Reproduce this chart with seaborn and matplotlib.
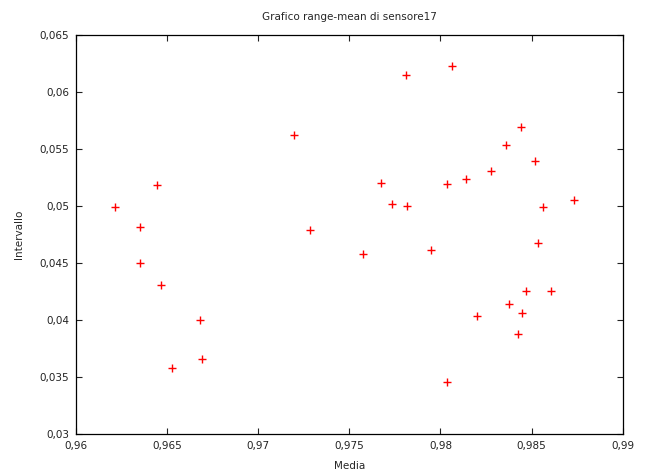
# Grafico range-mean di sensore17

import matplotlib
matplotlib.use('Agg')
import matplotlib.pyplot as plt
from matplotlib.ticker import FuncFormatter, MultipleLocator
import seaborn as sns
import pandas as pd

# dati
media = [0.96215, 0.9635, 0.9635, 0.96442, 0.96468, 0.96528, 0.96678, 0.96689,
         0.97196, 0.97282, 0.97573, 0.97676, 0.97736, 0.97817, 0.97813, 0.97948,
         0.98036, 0.98064, 0.98036, 0.98139, 0.98201, 0.98277, 0.98359, 0.98377,
         0.98441, 0.98426, 0.98446, 0.98468, 0.98517, 0.98534, 0.98565, 0.98609,
         0.98731]
intervallo = [0.04994, 0.04818, 0.04503, 0.05187, 0.0431, 0.03583, 0.04004, 0.03661,
              0.05623, 0.04785, 0.04579, 0.05204, 0.0502, 0.05002, 0.06149, 0.04617,
              0.05196, 0.06228, 0.03453, 0.0524, 0.04032, 0.0531, 0.05538, 0.04143,
              0.05696, 0.03875, 0.04064, 0.04252, 0.05397, 0.04678, 0.04993, 0.04252,
              0.05051]

df = pd.DataFrame({'Media': media, 'Intervallo': intervallo})

sns.set_style('ticks')
plt.rcParams['font.family'] = ['DejaVu Sans']

fig = plt.figure(figsize=(6.5, 4.72), dpi=100)
ax = fig.add_axes([0.117, 0.0805, 0.841, 0.8455])

sns.scatterplot(data=df, x='Media', y='Intervallo', marker='+', color='red',
                s=30, linewidth=1, ax=ax)

ax.set_xlim(0.96, 0.99)
ax.set_ylim(0.03, 0.065)
ax.xaxis.set_major_locator(MultipleLocator(0.005))
ax.yaxis.set_major_locator(MultipleLocator(0.005))

# virgola come separatore decimale
fmt = FuncFormatter(lambda v, p: ('%g' % round(v, 4)).replace('.', ','))
ax.xaxis.set_major_formatter(fmt)
ax.yaxis.set_major_formatter(fmt)

ax.tick_params(direction='in', length=4.5, width=0.8, labelsize=7.5,
               top=True, right=True, colors='#222222', pad=5)
for s in ax.spines.values():
    s.set_color('black')
    s.set_linewidth(0.9)

ax.set_xlabel('Media', fontsize=7.5, labelpad=7)
ax.set_ylabel('Intervallo', fontsize=7.5, labelpad=11)
ax.set_title('Grafico range-mean di sensore17', fontsize=7.5, pad=11)

plt.savefig('out.png', dpi=100)
